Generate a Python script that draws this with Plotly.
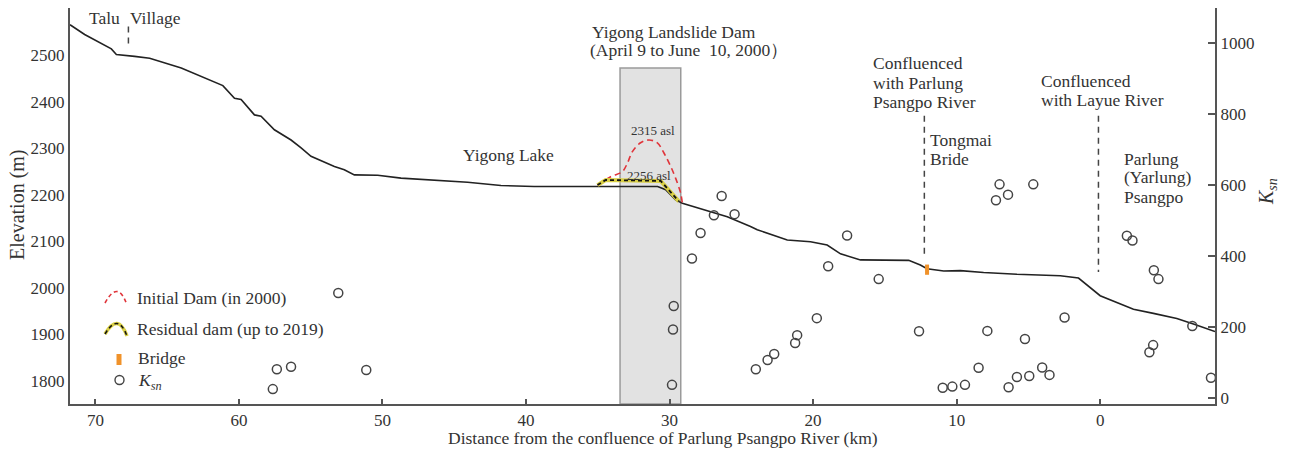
import plotly.graph_objects as go

# ---------------- data ----------------
profile_km = [71.77, 70.75, 68.89, 68.54, 67.27, 66.22, 64.02, 61.12, 60.31, 59.85, 58.92, 58.46,
              57.53, 56.37, 55.67, 54.98, 53.35, 52.66, 51.96, 50.33, 48.71, 46.40, 44.07, 41.75,
              39.44, 35.26, 30.83, 30.27, 29.58, 29.11, 27.61, 25.98, 24.36, 23.89, 21.80, 20.18,
              19.02, 18.56, 18.09, 16.70, 13.92, 13.34, 12.53, 12.06, 10.90, 9.74, 8.12, 5.80,
              2.78, 1.51, 0.0, -2.32, -3.71, -5.34, -6.50, -8.0]
profile_elev = [2566, 2545, 2514, 2502, 2498, 2494, 2473, 2435, 2408, 2405, 2372, 2369,
                2340, 2318, 2301, 2283, 2261, 2254, 2243, 2242, 2236, 2231, 2227, 2220,
                2218, 2218, 2218, 2211, 2189, 2182, 2168, 2153, 2132, 2125, 2103, 2099,
                2092, 2082, 2073, 2060, 2060, 2059, 2049, 2041, 2036, 2037, 2033, 2029,
                2026, 2021, 1983, 1954, 1945, 1934, 1922, 1906]

initial_dam_km = [35.02, 34.10, 33.29, 32.94, 32.59, 32.02, 31.43, 30.85, 30.39, 29.92, 29.58, 29.23, 29.11]
initial_dam_elev = [2221, 2239, 2250, 2268, 2293, 2312, 2318, 2312, 2290, 2261, 2236, 2204, 2182]

residual_dam_km = [35.02, 34.45, 30.62, 29.69, 29.35]
residual_dam_elev = [2221, 2232, 2230, 2196, 2186]

ksn_km = [53.08, 57.36, 56.37, 51.13, 57.64,
          26.37, 26.91, 25.47, 27.84, 28.44, 29.71, 29.76, 29.83, 17.63, 18.95, 15.43, 19.74,
          21.11, 21.25, 22.71, 23.17, 23.99,
          7.01, 4.66, 6.42, 7.26, -1.86, -2.25, -3.74, -4.06, 2.48, -6.42, 12.62, 7.86, 5.24,
          -3.69, -3.43, 8.47, 4.04, 3.53, 4.94, 5.80, 9.42, 10.30, 10.97, 6.38, -7.72]
ksn_val = [297, 82, 89, 80, 26,
           570, 516, 519, 466, 394, 260, 194, 38, 459, 372, 336, 226,
           178, 156, 125, 108, 82,
           603, 603, 574, 558, 458, 445, 361, 336, 228, 204, 189, 190, 167,
           150, 130, 86, 87, 66, 63, 60, 38, 33, 30, 31, 58]

bridge_km = [12.06, 12.06]
bridge_elev = [2028, 2050]

guide_km = [67.7, 12.25, 0.12]          # Talu village, Parlung confluence, Layue confluence
guide_top = [2562, 2370, 2370]
guide_bottom = [2523, 2066, 2034]

dam_span_km = [33.45, 29.22]
dam_span_top = 2473

x_ticks = [70, 60, 50, 40, 30, 20, 10, 0]
y_ticks = [1800, 1900, 2000, 2100, 2200, 2300, 2400, 2500]
y2_ticks = [0, 200, 400, 600, 800, 1000]

# ---------------- layout helpers ----------------
W, H = 1292, 451
L, R, T, B = 70, 1215, 8, 404
FONT = "Liberation Serif"
TXT = "#333333"
AX = "#555555"


def px(x):
    return (x - L) / (R - L)


def py(y):
    return (B - y) / (B - T)


fig = go.Figure()

fig.add_trace(go.Scatter(x=profile_km, y=profile_elev, mode="lines",
                         line=dict(color="#222222", width=1.6), showlegend=False))
fig.add_trace(go.Scatter(x=initial_dam_km, y=initial_dam_elev, mode="lines", line_shape="spline",
                         line=dict(color="#e0343a", width=1.6, dash="6px,4px"), showlegend=False))
fig.add_trace(go.Scatter(x=residual_dam_km, y=residual_dam_elev, mode="lines",
                         line=dict(color="#d9cf45", width=4), showlegend=False))
fig.add_trace(go.Scatter(x=residual_dam_km, y=residual_dam_elev, mode="lines",
                         line=dict(color="#111111", width=1.8, dash="4px,3px"), showlegend=False))
for k, t, b in zip(guide_km, guide_top, guide_bottom):
    fig.add_trace(go.Scatter(x=[k, k], y=[t, b], mode="lines",
                             line=dict(color="#444444", width=1.5, dash="6px,5px"), showlegend=False))
fig.add_trace(go.Scatter(x=bridge_km, y=bridge_elev, mode="lines",
                         line=dict(color="#f0922a", width=4), showlegend=False))
fig.add_trace(go.Scatter(x=ksn_km, y=ksn_val, mode="markers", yaxis="y2",
                         marker=dict(symbol="circle-open", size=9, color="#444444",
                                     line=dict(width=1.5, color="#444444")),
                         showlegend=False))

shapes = [
    dict(type="rect", xref="x", yref="y", x0=dam_span_km[0], x1=dam_span_km[1],
         y0=1750, y1=dam_span_top, fillcolor="#e2e2e2", line=dict(color="#9a9a9a", width=1.5),
         layer="below"),
]


def qpath(x0, y0, xc, yc, x1, y1):
    return f"M {px(x0)},{py(y0)} Q {px(xc)},{py(yc)} {px(x1)},{py(y1)}"


# legend glyphs
shapes.append(dict(type="path", xref="paper", yref="paper", path=qpath(105, 303, 118, 279, 127, 305),
                   line=dict(color="#e0343a", width=1.6, dash="4px,3px")))
shapes.append(dict(type="path", xref="paper", yref="paper", path=qpath(105, 334, 118, 312, 127, 336),
                   line=dict(color="#d9cf45", width=3.5)))
shapes.append(dict(type="path", xref="paper", yref="paper", path=qpath(105, 334, 118, 312, 127, 336),
                   line=dict(color="#111111", width=1.5, dash="4px,3px")))
shapes.append(dict(type="rect", xref="paper", yref="paper", x0=px(116.5), x1=px(121.5),
                   y0=py(365), y1=py(354), fillcolor="#f0922a", line=dict(width=0)))
shapes.append(dict(type="circle", xref="paper", yref="paper", x0=px(115), x1=px(124),
                   y0=py(384.5), y1=py(375.5), line=dict(color="#444444", width=1.4)))

anns = []


def ann(text, x, y, xanchor="left", size=17.5, angle=0):
    anns.append(dict(text=text, x=px(x), y=py(y), xref="paper", yref="paper", showarrow=False,
                     xanchor=xanchor, yanchor="middle", textangle=angle,
                     font=dict(family=FONT, size=size, color=TXT)))


ann("Talu", 87, 18)
ann("Village", 128, 18)
ann("Yigong Landslide Dam", 674, 32, "center")
ann("(April 9 to June  10, 2000）", 689, 50, "center")
ann("Yigong Lake", 508, 155, "center")
ann("2315 asl", 653, 130, "center", 13)
ann("2256 asl", 649, 175, "center", 13)
ann("Confluenced", 871, 63)
ann("with Parlung", 871, 82.5)
ann("Psangpo River", 871, 101.5)
ann("Tongmai", 928, 140)
ann("Bride", 928, 158.5)
ann("Confluenced", 1039, 81)
ann("with Layue River", 1039, 100)
ann("Parlung", 1122, 158.5)
ann("(Yarlung)", 1122, 177.5)
ann("Psangpo", 1122, 196.5)
ann("Initial Dam (in 2000)", 135, 298)
ann("Residual dam (up to 2019)", 135, 329)
ann("Bridge", 136, 358)
ann("<i>K</i><sub><i>sn</i></sub>", 136, 381)
ann("Elevation (m)", 17, 205, "center", 20, -90)
ann("<i>K</i><sub><i>sn</i></sub>", 1267, 192, "center", 20, -90)
ann("Distance from the confluence of Parlung Psangpo River (km)", 663, 438, "center", 17.5)

fig.update_layout(
    width=W, height=H,
    margin=dict(l=L, r=W - R, t=T, b=H - B, pad=0),
    paper_bgcolor="white", plot_bgcolor="white",
    showlegend=False,
    shapes=shapes, annotations=anns,
    xaxis=dict(range=[71.77, -8.0], tickmode="array", tickvals=x_ticks, automargin=False,
               ticks="inside", ticklen=5, tickwidth=1.5, tickcolor=AX,
               showline=True, linecolor=AX, linewidth=2, showgrid=False, zeroline=False,
               tickfont=dict(family=FONT, size=17, color=TXT)),
    yaxis=dict(range=[1750, 2602], tickmode="array", tickvals=y_ticks, ticks="", automargin=False,
               showline=True, linecolor=AX, linewidth=2, showgrid=False, zeroline=False,
               tickfont=dict(family=FONT, size=17, color=TXT)),
    yaxis2=dict(range=[-16, 1100], overlaying="y", side="right", tickmode="array", automargin=False,
                tickvals=y2_ticks, ticks="inside", ticklen=7, tickwidth=1.5, tickcolor=AX,
                showline=True, linecolor=AX, linewidth=2, showgrid=False, zeroline=False,
                tickfont=dict(family=FONT, size=17, color=TXT)),
)

fig.write_html("out.html", config={"displayModeBar": False},
               post_script="document.body.style.margin='0';document.body.style.overflow='hidden';")
